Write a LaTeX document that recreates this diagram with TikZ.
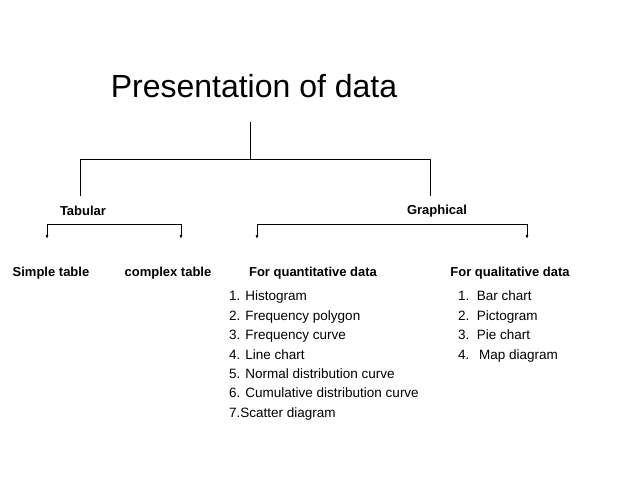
\documentclass[tikz,border=0pt]{standalone}
\usepackage{fontspec}
\usetikzlibrary{arrows.meta}
\setmainfont{Liberation Sans}
\begin{document}
\begin{tikzpicture}[x=1pt,y=-1pt,
  lbl/.style={font=\fontsize{13}{15}\selectfont\bfseries,inner sep=0pt},
  lst/.style={font=\fontsize{13.5}{19.4}\selectfont,inner sep=0pt,align=left,anchor=north west},
  ln/.style={line width=0.9pt},
  arr/.style={ln,-{Latex[length=4pt,width=3pt]}}]
\useasboundingbox (0,0) rectangle (638,479);
\node[font=\fontsize{32}{36}\selectfont,inner sep=0pt] (title) at (254,86) {Presentation of data};
\coordinate (t0) at (250,122);
\coordinate (t1) at (250,159);
\coordinate (hl) at (80,159);
\coordinate (hr) at (430,159);
\node[lbl] (tab) at (83,211) {Tabular};
\node[lbl] (gra) at (437,211) {Graphical};
\draw[ln] (t0) -- (t1);
\draw[ln] (80,196) -- (hl) -- (hr) -- (430,196);
\node[lbl] (st) at (51,273) {Simple table};
\node[lbl] (ct) at (168,273) {complex table};
\node[lbl] (qn) at (313,273) {For quantitative data};
\node[lbl] (ql) at (510,273) {For qualitative data};
\coordinate (a1) at (47,224); \coordinate (a2) at (181,224);
\coordinate (b1) at (257,224); \coordinate (b2) at (527,224);
\coordinate (a1e) at (47,239); \coordinate (a2e) at (181,239);
\coordinate (b1e) at (257,239); \coordinate (b2e) at (527,239);
\draw[ln] (a1) -- (a2);
\draw[ln] (b1) -- (b2);
\draw[arr] (a1) -- (a1e);
\draw[arr] (a2) -- (a2e);
\draw[arr] (b1) -- (b1e);
\draw[arr] (b2) -- (b2e);
\node[lst] (l1) at (229,291) {1. Histogram\\2. Frequency polygon\\3. Frequency curve\\4. Line chart\\5. Normal distribution curve\\6. Cumulative distribution curve\\7.Scatter diagram};
\node[lst] (l2) at (458,291) {1.\ \ Bar chart\\2.\ \ Pictogram\\3.\ \ Pie chart\\4.\ \ \,Map diagram};
\end{tikzpicture}
\end{document}
